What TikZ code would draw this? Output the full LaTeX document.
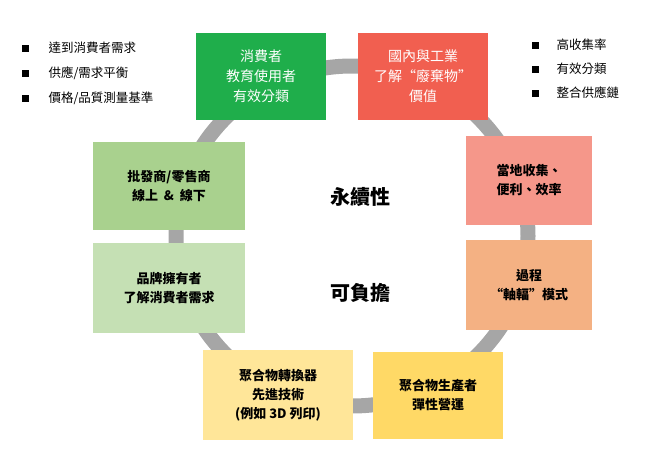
\documentclass[tikz,border=0pt]{standalone}
\usepackage{fontspec}
\setmainfont{Noto Sans CJK TC}
\definecolor{g1}{HTML}{1FAE4B}
\definecolor{r1}{HTML}{F15F50}
\definecolor{s1}{HTML}{F5978A}
\definecolor{o1}{HTML}{F4B183}
\definecolor{y1}{HTML}{FFD966}
\definecolor{y2}{HTML}{FFE699}
\definecolor{lg}{HTML}{C5E0B4}
\definecolor{mg}{HTML}{A9D18E}
\definecolor{ring}{HTML}{A6A6A6}
\tikzset{
 box/.style={minimum width=130pt,minimum height=87pt,align=center,font=\fontsize{13}{19}\selectfont\bfseries,inner sep=2pt},
 wbox/.style={box,text=white,font=\fontsize{14}{20}\selectfont},
 big/.style={font=\fontsize{20}{24}\selectfont\bfseries},
 bl/.style={anchor=west,font=\fontsize{12.5}{15}\selectfont},
 sq/.style={fill=black,minimum size=7pt,inner sep=0pt}
}
\begin{document}
\begin{tikzpicture}[x=1pt,y=-1pt]
\useasboundingbox (0,0) rectangle (661,450);
\draw[ring,line width=15pt] (352,236) ellipse (176 and 170);
\node[wbox,fill=g1] (a) at (261,76) {消費者\\教育使用者\\有效分類};
\node[wbox,fill=r1] (b) at (423,76) {國內與工業\\了解“廢棄物”\\價值};
\node[box,fill=s1,minimum width=126pt,minimum height=89pt] (c) at (529,180) {當地收集、\\便利、效率};
\node[box,fill=o1,minimum width=126pt,minimum height=90pt] (d) at (529,285) {過程\\“軸輻”模式};
\node[box,fill=y1] (e) at (438,395) {聚合物生產者\\彈性營運};
\node[box,fill=y2,minimum width=150pt,minimum height=90pt] (f) at (278,395) {聚合物轉換器\\先進技術\\(例如 3D 列印)};
\node[box,fill=lg,minimum width=152pt,minimum height=90pt] (g) at (169,288) {品牌擁有者\\了解消費者需求};
\node[box,fill=mg,minimum width=152pt,minimum height=88pt] (h) at (169,186) {批發商/零售商\\線上 \ \& \ 線下};
\node[big] (t1) at (360,197) {永續性};
\node[big] (t2) at (360,293) {可負擔};
\node[sq] (s1) at (25,48) {}; \node[bl] (l1) at (45,48) {達到消費者需求};
\node[sq] (s2) at (25,73) {}; \node[bl] (l2) at (45,73) {供應/需求平衡};
\node[sq] (s3) at (25,98) {}; \node[bl] (l3) at (45,98) {價格/品質測量基準};
\node[sq] (s4) at (535,45) {}; \node[bl] (l4) at (553,45) {高收集率};
\node[sq] (s5) at (535,69) {}; \node[bl] (l5) at (553,69) {有效分類};
\node[sq] (s6) at (535,93) {}; \node[bl] (l6) at (553,93) {整合供應鏈};
\end{tikzpicture}
\end{document}
